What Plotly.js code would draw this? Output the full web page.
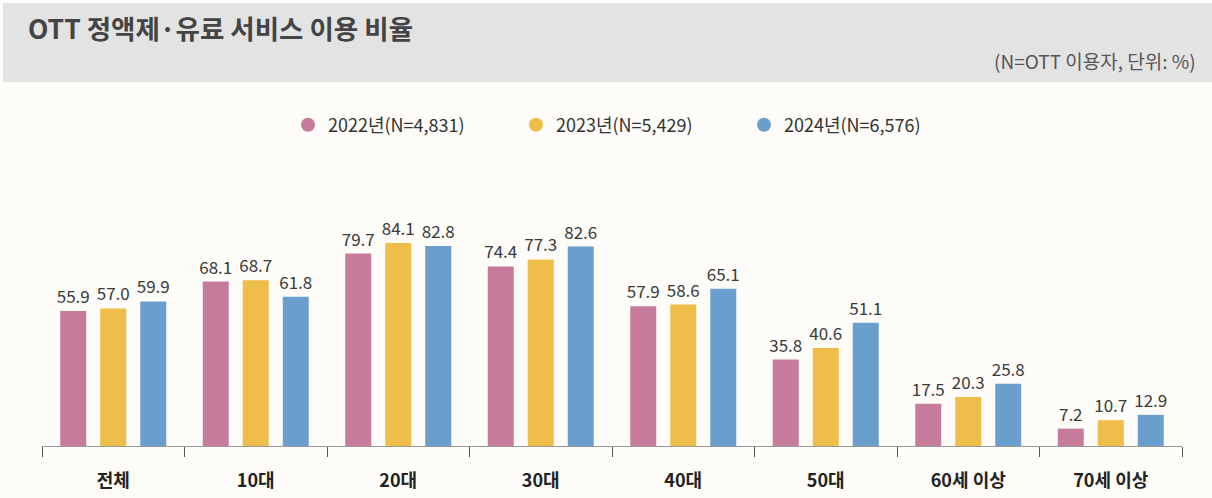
<!DOCTYPE html>
<html>
<head>
<meta charset="utf-8">
<script src="https://cdn.plot.ly/plotly-3.0.1.min.js"></script>
<style>
html,body{margin:0;padding:0;background:#fdfcf8;}
#chart{width:1212px;height:498px;}
</style>
</head>
<body>
<div id="chart"></div>
<script>
const categories = ['전체','10대','20대','30대','40대','50대','60세 이상','70세 이상'];
const seriesNames = ['2022년(N=4,831)','2023년(N=5,429)','2024년(N=6,576)'];
const values2022 = [55.9, 68.1, 79.7, 74.4, 57.9, 35.8, 17.5, 7.2];
const values2023 = [57.0, 68.7, 84.1, 77.3, 58.6, 40.6, 20.3, 10.7];
const values2024 = [59.9, 61.8, 82.8, 82.6, 65.1, 51.1, 25.8, 12.9];
const colors = ['#c77b9b', '#eebd4a', '#6a9fcd'];
const chartTitle = 'OTT 정액제·유료 서비스 이용 비율';
const subTitle = '(N=OTT 이용자, 단위: %)';

const FONT = '"Noto Sans CJK KR", "Noto Sans", sans-serif';
const allValues = [values2022, values2023, values2024];

const traces = [];
allValues.forEach((vals, i) => {
  traces.push({
    type: 'bar',
    x: categories,
    y: vals,
    name: seriesNames[i],
    marker: {color: colors[i]},
    text: vals.map(v => v.toFixed(1)),
    textposition: 'outside',
    constraintext: 'none',
    textfont: {family: FONT, size: 17, color: '#3a3a3a'},
    cliponaxis: false,
    showlegend: false,
    hoverinfo: 'x+y'
  });
});
// legend entries as circles
allValues.forEach((vals, i) => {
  traces.push({
    type: 'scatter',
    mode: 'markers',
    x: [null],
    y: [null],
    name: seriesNames[i],
    marker: {color: colors[i], size: 14, symbol: 'circle'},
    showlegend: true,
    hoverinfo: 'skip'
  });
});

// pixel helpers for layout decoration
const L = 42, R = 30, T = 150, B = 52, W = 1212, H = 498;
const pw = W - L - R, ph = H - T - B;
const px = x => (x - L) / pw;
const py = y => (H - B - y) / ph;

const layout = {
  width: W, height: H,
  margin: {l: L, r: R, t: T, b: B, pad: 0},
  paper_bgcolor: '#fdfcf8',
  plot_bgcolor: '#fdfcf8',
  font: {family: FONT, color: '#333'},
  title: {
    text: chartTitle,
    x: 28 / W, xanchor: 'left', xref: 'container',
    y: 1 - 30 / H, yanchor: 'middle', yref: 'container',
    font: {family: FONT, size: 26.5, color: '#444', weight: 'bold'}
  },
  barmode: 'group',
  bargap: 0.158,
  bargroupgap: 0.35,
  xaxis: {
    type: 'category',
    tickson: 'boundaries',
    ticks: 'outside',
    ticklen: 10,
    tickwidth: 1,
    tickcolor: '#555',
    showline: true,
    linecolor: '#9a9a9a',
    linewidth: 1,
    showgrid: false,
    zeroline: false,
    ticklabelstandoff: 18,
    tickfont: {family: FONT, size: 18, color: '#222', weight: 'bold'},
    fixedrange: true
  },
  yaxis: {
    range: [0, ph / 2.414],
    visible: false,
    showgrid: false,
    zeroline: false,
    fixedrange: true
  },
  legend: {
    orientation: 'h',
    x: px(630), xanchor: 'center',
    y: py(125), yanchor: 'middle',
    font: {family: FONT, size: 18, color: '#333'},
    entrywidth: 183,
    entrywidthmode: 'pixels',
    itemwidth: 30,
    bgcolor: 'rgba(0,0,0,0)'
  },
  shapes: [{
    type: 'rect', xref: 'paper', yref: 'paper', layer: 'below',
    x0: px(3), x1: px(1212), y0: py(82), y1: py(3),
    fillcolor: '#e3e3e3', line: {width: 0}
  }],
  annotations: [{
    text: subTitle,
    xref: 'paper', yref: 'paper',
    x: px(1198), xanchor: 'right',
    y: py(60), yanchor: 'middle',
    showarrow: false,
    font: {family: FONT, size: 19, color: '#555'}
  }]
};

Plotly.newPlot('chart', traces, layout, {displayModeBar: false, staticPlot: true});
</script>
</body>
</html>
